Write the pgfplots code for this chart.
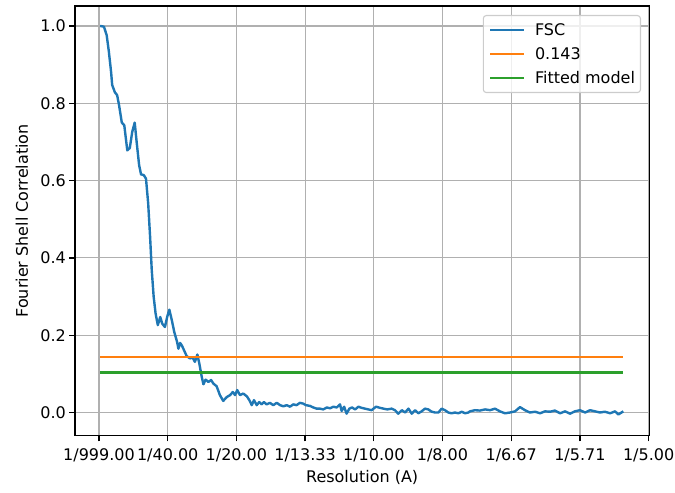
\documentclass[border=0pt]{standalone}
\usepackage{fontspec}
\setmainfont{DejaVu Sans}
\usepackage{pgfplots}
\pgfplotsset{compat=1.18}
\usepackage{pgfplotstable}
\definecolor{C0}{HTML}{1F77B4}
\definecolor{C1}{HTML}{FF7F0E}
\definecolor{C2}{HTML}{2CA02C}
\definecolor{gridc}{HTML}{B0B0B0}
\definecolor{legc}{HTML}{CCCCCC}
\pgfplotstableread{
f v
0.0004 1.000
0.0018 0.998
0.0028 0.976
0.0036 0.933
0.0044 0.881
0.0048 0.847
0.0058 0.828
0.0066 0.821
0.0073 0.795
0.0083 0.750
0.0092 0.743
0.0103 0.678
0.0112 0.684
0.0121 0.726
0.0130 0.750
0.0137 0.700
0.0146 0.640
0.0153 0.616
0.0163 0.614
0.0171 0.605
0.0179 0.541
0.0186 0.454
0.0192 0.368
0.0199 0.299
0.0206 0.256
0.0214 0.226
0.0223 0.247
0.0230 0.230
0.0240 0.221
0.0248 0.247
0.0256 0.266
0.0265 0.239
0.0274 0.208
0.0284 0.183
0.0289 0.165
0.0295 0.180
0.0301 0.174
0.0307 0.165
0.0319 0.146
0.0331 0.140
0.0341 0.142
0.0349 0.131
0.0358 0.150
0.0365 0.127
0.0374 0.092
0.0380 0.073
0.0388 0.085
0.0398 0.079
0.0408 0.084
0.0416 0.075
0.0428 0.068
0.0440 0.045
0.0452 0.030
0.0465 0.040
0.0477 0.045
0.0487 0.053
0.0495 0.045
0.0503 0.058
0.0513 0.045
0.0525 0.049
0.0538 0.042
0.0547 0.032
0.0556 0.019
0.0564 0.032
0.0574 0.019
0.0583 0.027
0.0592 0.021
0.0600 0.027
0.0610 0.021
0.0622 0.025
0.0634 0.019
0.0647 0.025
0.0659 0.019
0.0671 0.016
0.0683 0.019
0.0695 0.015
0.0707 0.021
0.0719 0.019
0.0731 0.025
0.0743 0.023
0.0753 0.019
0.0768 0.017
0.0780 0.013
0.0792 0.010
0.0804 0.010
0.0816 0.008
0.0829 0.013
0.0841 0.011
0.0853 0.015
0.0865 0.013
0.0877 0.021
0.0883 0.004
0.0892 0.015
0.0901 -0.003
0.0911 0.010
0.0921 0.013
0.0932 0.008
0.0944 0.015
0.0956 0.012
0.0968 0.010
0.0980 0.008
0.0992 0.006
0.1008 0.015
0.1023 0.012
0.1035 0.010
0.1049 0.008
0.1065 0.010
0.1077 0.006
0.1089 -0.003
0.1102 0.006
0.1114 0.000
0.1126 0.010
0.1138 -0.003
0.1150 0.006
0.1162 -0.002
0.1174 0.003
0.1186 0.010
0.1198 0.008
0.1211 0.002
0.1223 0.000
0.1235 0.000
0.1247 0.010
0.1259 0.006
0.1271 0.000
0.1283 -0.002
0.1295 0.000
0.1308 -0.002
0.1320 0.002
0.1332 -0.002
0.1344 0.000
0.1350 0.003
0.1368 0.006
0.1386 0.005
0.1405 0.008
0.1423 0.006
0.1441 0.010
0.1459 0.003
0.1477 -0.002
0.1496 0.000
0.1514 0.003
0.1532 0.014
0.1550 0.006
0.1568 0.000
0.1587 0.002
0.1605 -0.002
0.1623 0.003
0.1641 0.002
0.1659 0.005
0.1678 -0.002
0.1696 0.003
0.1714 -0.003
0.1732 0.003
0.1750 0.006
0.1769 0.000
0.1787 0.006
0.1805 0.003
0.1823 0.000
0.1841 0.002
0.1860 -0.002
0.1878 0.003
0.1890 -0.005
0.1908 0.003
}\fsc
\begin{document}
\begin{tikzpicture}[font=\fontsize{16bp}{19bp}\selectfont]
\begin{axis}[
  at={(0,0)}, anchor=south west,
  scale only axis, width=574.3bp, height=429.7bp,
  xmin=-0.00873, xmax=0.20025, ymin=-0.060, ymax=1.0515,
  xtick={0,0.025,0.05,0.075,0.1,0.125,0.15,0.175,0.2},
  xticklabels={1/999.00,1/40.00,1/20.00,1/13.33,1/10.00,1/8.00,1/6.67,1/5.71,1/5.00},
  ytick={0,0.2,0.4,0.6,0.8,1.0},
  yticklabel style={/pgf/number format/.cd, fixed, fixed zerofill, precision=1, assume math mode=true},
  xticklabel style={yshift=-4bp},
  tick label style={font=\fontsize{16bp}{19bp}\selectfont},
  label style={font=\fontsize{16bp}{19bp}\selectfont},
  tick pos=left, tick align=outside, major tick length=5.6bp,
  tick style={black, line width=1.28bp},
  axis line style={line width=1.28bp},
  grid=major, major grid style={gridc, line width=1.2bp},
  xlabel={Resolution (A)}, ylabel={Fourier Shell Correlation},
  xlabel style={at={(axis description cs:0.5,0)}, anchor=center, yshift=-42bp},
  ylabel style={at={([xshift=-53bp]axis description cs:0,0.5)}, anchor=center},
  legend style={at={(1,1)}, anchor=north east, xshift=-8.3bp, yshift=-9bp,
    draw=legc, fill=white, fill opacity=0.8, text opacity=1, rounded corners=3bp,
    line width=1.1bp, inner xsep=5.5bp, inner ysep=6bp, row sep=7bp, column sep=0bp,
    font=\fontsize{16bp}{19bp}\selectfont,
    nodes={inner sep=0bp, text height=14bp, text depth=3bp}},
  legend cell align=left,
  legend image code/.code={\draw[#1] (0bp,0bp) -- (34bp,0bp); \path[draw=none] (34bp,0bp) -- (45bp,0bp);},
]
\addplot[C0, line width=2.4bp, line join=round] table[x=f, y=v] {\fsc};
\addlegendentry{FSC}
\addplot[C1, line width=2.4bp] coordinates {(0.0004,0.143) (0.1908,0.143)};
\addlegendentry{0.143}
\addplot[C2, line width=2.4bp] coordinates {(0.0004,0.103) (0.1908,0.103)};
\addlegendentry{Fitted model}
\end{axis}
\pgfresetboundingbox
\path[use as bounding box] (-75bp,-57.3bp) rectangle (600bp,435.7bp);
\end{tikzpicture}
\end{document}
